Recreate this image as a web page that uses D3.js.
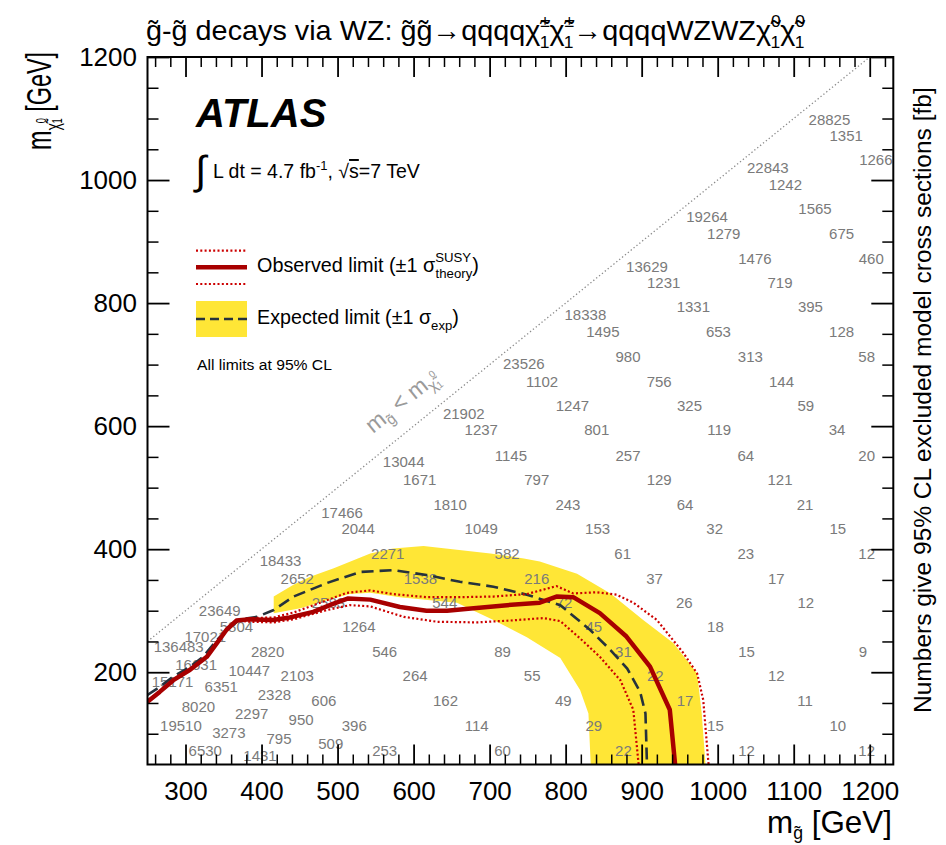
<!DOCTYPE html>
<html>
<head>
<meta charset="utf-8">
<script src="https://cdn.jsdelivr.net/npm/d3@7"></script>
<style>
  html, body { margin: 0; padding: 0; background: #fff; }
  svg { display: block; }
</style>
</head>
<body>
<script>
// ---------------- DATA ----------------
const xTicksMajor = [300, 400, 500, 600, 700, 800, 900, 1000, 1100, 1200];
const yTicksMajor = [200, 400, 600, 800, 1000, 1200];

// Observed limit (m_gluino, m_LSP)
const obsMg   = [250,266,284,306,328,341,354,367,385,415,437,468,494,514,543,582,617,644,679,723,766,788,810,845,880,911,937,944];
const obsMlsp = [152,168,187,204,225,247,269,284,286,285,289,298,311,320,318,306,300,300,304,309,313,323,322,296,258,209,139,50];
// Observed +1 sigma theory
const obsUpMg   = [250,266,284,306,328,341,354,367,385,416,442,486,512,543,573,617,661,705,749,788,810,841,867,889,920,955,973,981,988];
const obsUpMlsp = [152,168,187,204,225,247,269,284,288,289,297,317,329,333,327,322,322,323,327,340,328,330,326,313,285,231,198,155,50];
// Observed -1 sigma theory
const obsDnMg   = [250,266,284,306,328,341,354,367,385,416,442,486,516,543,587,631,683,727,771,793,819,845,872,889,896];
const obsDnMlsp = [152,168,187,204,225,247,269,284,282,281,286,301,309,307,290,282,281,284,288,283,255,225,187,139,50];
// Expected limit
const expMg   = [250,266,284,306,323,341,359,372,394,416,442,486,530,573,617,661,705,749,793,832,859,881,898,905,907];
const expMlsp = [163,176,193,209,225,252,274,286,290,301,323,345,363,366,358,347,339,326,309,269,236,206,168,133,50];
// Expected +-1 sigma band edges
const bandUpMg   = [416,442,464,495,543,573,613,657,701,745,766,815,859,902,942,973,979,984];
const bandUpMlsp = [323,342,355,369,393,401,405,399,393,385,380,360,328,285,247,198,133,50];
const bandLoMg   = [416,451,486,516,543,582,622,657,705,749,793,819,830,833];
const bandLoMlsp = [296,304,317,327,329,322,317,313,285,257,223,171,133,50];

// Kinematic boundary m_gluino = m_LSP
const diagMg   = [250, 1200];
const diagMlsp = [250, 1200];

// Excluded cross sections [fb] at grid points
const gridXsec = [28825,1351,1266,22843,1242,1565,19264,1279,675,1476,
  460,13629,1231,719,1331,395,18338,1495,653,128,
  980,313,58,23526,1102,756,144,1247,325,59,
  21902,1237,801,119,34,1145,257,64,20,13044,
  1671,797,129,121,1810,243,64,21,17466,2044,
  1049,153,32,15,2271,582,61,23,12,18433,
  2652,1538,216,37,17,2583,544,72,26,12,
  23649,5804,1264,45,18,17021,136483,2820,546,89,
  31,15,9,16631,10447,2103,264,55,22,12,
  15171,6351,2328,606,162,49,17,11,8020,2297,
  950,19510,396,114,29,15,10,3273,795,509,
  6530,253,60,22,12,12,1431];
const gridMg = [1147,1169,1208,1066,1089,1128,986,1008,1163,1049,
  1202,907,929,1082,968,1122,826,849,1001,1163,
  882,1043,1196,745,769,923,1084,809,963,1116,
  666,689,841,1002,1157,728,882,1037,1196,587,
  608,762,923,1082,648,803,957,1115,506,527,
  689,842,996,1158,566,723,875,1037,1196,425,
  447,609,762,917,1077,488,641,798,956,1116,
  345,367,528,837,997,326,291,408,562,717,
  876,1038,1191,314,384,447,602,756,918,1077,
  283,347,417,482,642,797,957,1115,317,387,
  452,294,522,683,837,997,1158,357,423,491,
  326,562,717,876,1038,1196,398];
const gridMlsp = [1099,1072,1033,1021,993,953,940,913,913,872,
  872,860,834,834,794,794,781,754,754,754,
  713,713,713,702,673,673,673,633,633,633,
  621,594,594,594,594,553,553,553,553,542,
  514,514,514,514,473,473,473,473,460,434,
  434,434,434,434,393,393,393,393,393,381,
  353,353,353,353,353,313,313,313,313,313,
  300,274,274,274,274,258,242,233,233,233,
  233,233,233,213,202,194,194,194,194,194,
  185,176,163,154,154,154,154,154,145,133,
  123,114,114,114,114,114,114,102,93,84,
  72,72,72,72,72,72,64];

// ---------------- LAYOUT ----------------
const W = 946, H = 845;
const FONT = '"Liberation Sans", Arial, Helvetica, sans-serif';
const C_YELLOW = '#ffe636', C_OBS = '#a80000', C_DOT = '#cc0000', C_EXP = '#26323c', C_NUM = '#7a7a7a';

const svg = d3.select('body').append('svg').attr('width', W).attr('height', H)
  .attr('font-family', FONT);
svg.append('rect').attr('width', W).attr('height', H).attr('fill', '#fff');

const x = d3.scaleLinear().domain([250, 1231]).range([147.5, 893.3]);
const y = d3.scaleLinear().domain([50, 1200]).range([764.5, 57]);
const [x0, x1] = x.range(); const [y0, y1] = [y(1200), y(50)];

svg.append('clipPath').attr('id', 'plotclip').append('rect')
  .attr('x', x0).attr('y', y0).attr('width', x1 - x0).attr('height', y1 - y0);
const plot = svg.append('g').attr('clip-path', 'url(#plotclip)');

const zip = (a, b) => a.map((v, i) => [v, b[i]]);
const line = d3.line().x(d => x(d[0])).y(d => y(d[1]));

// band
const bandPts = zip(bandUpMg, bandUpMlsp).concat(zip(bandLoMg, bandLoMlsp).reverse());
plot.append('path').attr('d', line(bandPts) + 'Z').attr('fill', C_YELLOW).attr('stroke', 'none');

// diagonal
plot.append('path').attr('d', line(zip(diagMg, diagMlsp))).attr('fill', 'none')
  .attr('stroke', '#8a8a8a').attr('stroke-width', 1.3).attr('stroke-dasharray', '1.3,2.4');

// numbers
plot.append('g').selectAll('text').data(gridXsec).join('text')
  .attr('x', (d, i) => x(gridMg[i])).attr('y', (d, i) => y(gridMlsp[i]))
  .attr('text-anchor', 'middle').attr('dominant-baseline', 'central')
  .attr('font-size', 15).attr('fill', C_NUM).text(d => d);

// curves
plot.append('path').attr('d', line(zip(expMg, expMlsp))).attr('fill', 'none')
  .attr('stroke', C_EXP).attr('stroke-width', 2.6).attr('stroke-dasharray', '12,6');
[[obsUpMg, obsUpMlsp], [obsDnMg, obsDnMlsp]].forEach(([a, b]) => {
  plot.append('path').attr('d', line(zip(a, b))).attr('fill', 'none')
    .attr('stroke', C_DOT).attr('stroke-width', 2.2).attr('stroke-dasharray', '2,2.3');
});
plot.append('path').attr('d', line(zip(obsMg, obsMlsp))).attr('fill', 'none')
  .attr('stroke', C_OBS).attr('stroke-width', 4.5).attr('stroke-linejoin', 'round');

// ---------------- AXES ----------------
function styleAxis(g, sw) {
  g.select('.domain').remove();
  g.selectAll('line').attr('stroke', '#000').attr('stroke-width', sw);
  g.attr('font-family', FONT).attr('font-size', 26);
  g.selectAll('text').attr('fill', '#000');
}
const xMinor = d3.range(260, 1231, 20).filter(v => v % 100 !== 0);
const yMinor = d3.range(100, 1200, 50).filter(v => v % 200 !== 0);

svg.append('g').attr('transform', `translate(0,${y1})`)
  .call(d3.axisBottom(x).tickValues(xTicksMajor).tickSize(-20).tickPadding(17).tickFormat(d3.format('d')))
  .call(g => styleAxis(g, 1.8));
svg.append('g').attr('transform', `translate(0,${y1})`)
  .call(d3.axisBottom(x).tickValues(xMinor).tickSize(-10).tickFormat(''))
  .call(g => styleAxis(g, 1.5));
svg.append('g').attr('transform', `translate(0,${y0})`)
  .call(d3.axisTop(x).tickValues(xTicksMajor).tickSize(-20).tickFormat(''))
  .call(g => styleAxis(g, 1.8));
svg.append('g').attr('transform', `translate(0,${y0})`)
  .call(d3.axisTop(x).tickValues(xMinor).tickSize(-10).tickFormat(''))
  .call(g => styleAxis(g, 1.5));
svg.append('g').attr('transform', `translate(${x0},0)`)
  .call(d3.axisLeft(y).tickValues(yTicksMajor).tickSize(-22).tickPadding(10.5).tickFormat(d3.format('d')))
  .call(g => styleAxis(g, 1.8));
svg.append('g').attr('transform', `translate(${x0},0)`)
  .call(d3.axisLeft(y).tickValues(yMinor).tickSize(-11).tickFormat(''))
  .call(g => styleAxis(g, 1.5));
svg.append('g').attr('transform', `translate(${x1},0)`)
  .call(d3.axisRight(y).tickValues(yTicksMajor).tickSize(-22).tickFormat(''))
  .call(g => styleAxis(g, 1.8));
svg.append('g').attr('transform', `translate(${x1},0)`)
  .call(d3.axisRight(y).tickValues(yMinor).tickSize(-11).tickFormat(''))
  .call(g => styleAxis(g, 1.5));

svg.append('rect').attr('x', x0).attr('y', y0).attr('width', x1 - x0).attr('height', y1 - y0)
  .attr('fill', 'none').attr('stroke', '#000').attr('stroke-width', 2);

// ---------------- TEXT HELPERS ----------------
function placed(segs, o) {
  const g = svg.append('g').attr('fill', o.fill || '#000');
  const t = g.append('text').attr('font-family', o.family || FONT);
  if (o.weight) t.attr('font-weight', o.weight);
  if (o.italic) t.attr('font-style', 'italic');
  segs.forEach(s => {
    const ts = t.append('tspan').text(s.t).attr('font-size', s.fs);
    if (s.dx) ts.attr('dx', s.dx);
    if (s.dy) ts.attr('dy', s.dy);
    if (s.over) ts.attr('text-decoration', 'overline');
  });
  const bb = t.node().getBBox();
  const sx = o.len ? o.len / bb.width : 1;
  const off = o.anchor === 'end' ? -(bb.x + bb.width) : o.anchor === 'middle' ? -(bb.x + bb.width / 2) : -bb.x;
  t.attr('transform', `scale(${sx},1) translate(${off},0)`);
  g.attr('transform', `translate(${o.x},${o.y}) rotate(${o.rot || 0})`);
  return g;
}

// Title
placed([
  { t: 'g\u0303-g\u0303 decays via WZ: g\u0303g\u0303\u2192qqqq\u03C7\u0303', fs: 28 },
  { t: '\u00B1', fs: 17, dy: -13 }, { t: '1', fs: 17, dx: -10, dy: 21 },
  { t: '\u03C7\u0303', fs: 28, dy: -8 },
  { t: '\u00B1', fs: 17, dy: -13 }, { t: '1', fs: 17, dx: -10, dy: 21 },
  { t: '\u2192qqqqWZWZ\u03C7\u0303', fs: 28, dy: -8 },
  { t: '0', fs: 17, dy: -13 }, { t: '1', fs: 17, dx: -10, dy: 21 },
  { t: '\u03C7\u0303', fs: 28, dy: -8 },
  { t: '0', fs: 17, dy: -13 }, { t: '1', fs: 17, dx: -10, dy: 21 }
], { x: 146, y: 40, len: 660 });

// X axis title
placed([{ t: 'm', fs: 32 }, { t: 'g\u0303', fs: 18, dy: 6 }, { t: ' [GeV]', fs: 32, dy: -6 }],
  { x: 892, y: 833, anchor: 'end', len: 125 });

// Y axis title
placed([{ t: 'm', fs: 35 }, { t: '\u03C7\u0303', fs: 21, dy: 9 }, { t: '0', fs: 14, dy: -14 },
  { t: '1', fs: 14, dx: -8, dy: 16 }, { t: ' [GeV]', fs: 35, dy: -11 }],
  { x: 51, y: 52, rot: -90, anchor: 'end', len: 98 });

// Right title
placed([{ t: 'Numbers give 95% CL excluded model cross sections [fb]', fs: 24 }],
  { x: 931, y: 400, rot: -90, anchor: 'middle', len: 626 });

// ATLAS
placed([{ t: 'ATLAS', fs: 40 }], { x: 195, y: 127, weight: 'bold', italic: true });

// Luminosity
placed([{ t: '\u222B', fs: 40 }], { x: 193, y: 184 });
placed([{ t: 'L dt = 4.7 fb', fs: 19.5 }, { t: '-1', fs: 13, dy: -8 }, { t: ', ', fs: 19.5, dy: 8 },
  { t: '\u221A', fs: 19.5 }, { t: 's', fs: 19.5, over: true }, { t: '=7 TeV', fs: 19.5 }],
  { x: 213, y: 178, len: 207 });

// Legend
const lg = svg.append('g');
lg.append('line').attr('x1', 196).attr('x2', 247).attr('y1', 250.7).attr('y2', 250.7)
  .attr('stroke', C_DOT).attr('stroke-width', 2.2).attr('stroke-dasharray', '2,2.3');
lg.append('line').attr('x1', 196).attr('x2', 247).attr('y1', 267.3).attr('y2', 267.3)
  .attr('stroke', C_OBS).attr('stroke-width', 4.5);
lg.append('line').attr('x1', 196).attr('x2', 247).attr('y1', 284).attr('y2', 284)
  .attr('stroke', C_DOT).attr('stroke-width', 2.2).attr('stroke-dasharray', '2,2.3');
lg.append('rect').attr('x', 196).attr('y', 301).attr('width', 51).attr('height', 36).attr('fill', C_YELLOW);
lg.append('line').attr('x1', 196).attr('x2', 247).attr('y1', 319).attr('y2', 319)
  .attr('stroke', C_EXP).attr('stroke-width', 2.6).attr('stroke-dasharray', '9,5');

placed([{ t: 'Observed limit (\u00B11 ', fs: 19.5 }, { t: '\u03C3', fs: 19.5 },
  { t: 'SUSY', fs: 13, dy: -10 }, { t: 'theory', fs: 13, dx: -35, dy: 16 }, { t: ')', fs: 19.5, dy: -6 }],
  { x: 257, y: 272, len: 222 });
placed([{ t: 'Expected limit (\u00B11 ', fs: 19.5 }, { t: '\u03C3', fs: 19.5 },
  { t: 'exp', fs: 13, dy: 6 }, { t: ')', fs: 19.5, dy: -6 }],
  { x: 257, y: 324, len: 202 });
placed([{ t: 'All limits at 95% CL', fs: 15 }], { x: 197, y: 370, len: 135 });

// Diagonal label
placed([{ t: 'm', fs: 23 }, { t: 'g\u0303', fs: 15, dy: 5 }, { t: ' < m', fs: 23, dy: -5 },
  { t: '\u03C7\u0303', fs: 15, dy: 5 }, { t: '0', fs: 10, dy: -11 }, { t: '1', fs: 10, dx: -6, dy: 13 }],
  { x: 373, y: 434, rot: -39, fill: '#9a9a9a' });
</script>
</body>
</html>
